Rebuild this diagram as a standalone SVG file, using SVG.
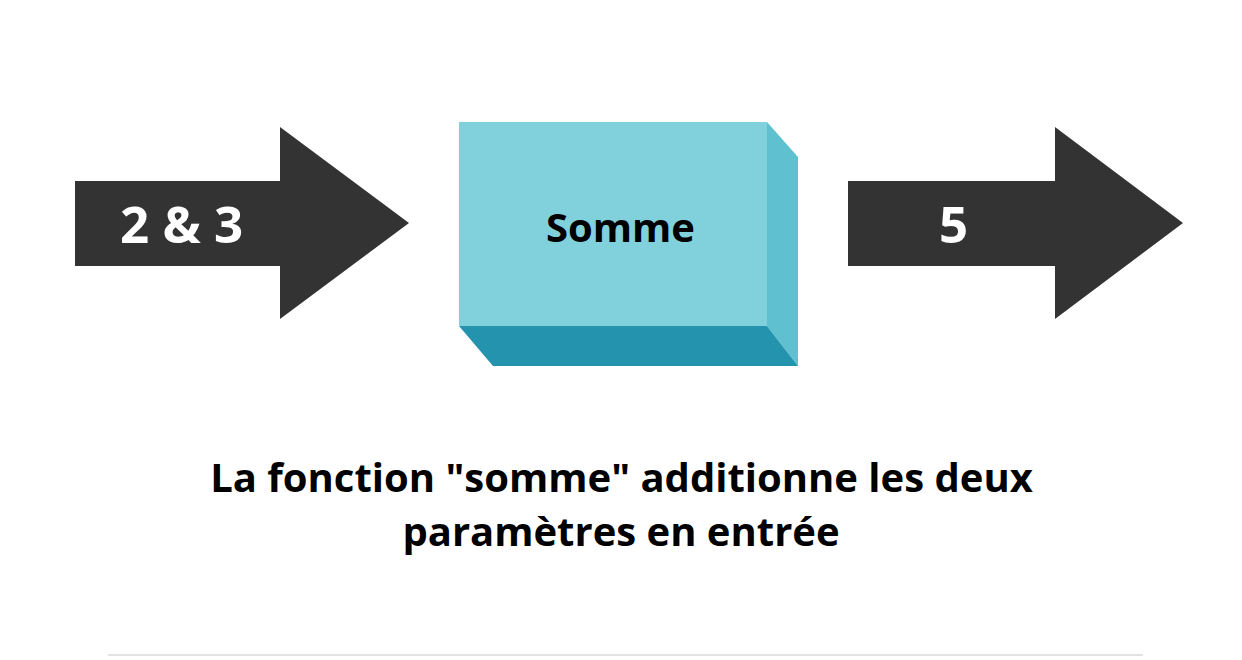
<svg xmlns="http://www.w3.org/2000/svg" width="1242" height="660" viewBox="0 0 1242 660">
<style>
.arrow{fill:#333333}
.lbl{font-family:"Open Sans","Liberation Sans",sans-serif;font-weight:bold}
.w{fill:#ffffff;font-size:51px}
.k{fill:#000000}
</style>
<rect width="1242" height="660" fill="#ffffff"/>
<g id="connectors">
<g id="arrow-in">
<polygon class="arrow" points="75,181 280,181 280,127 409,223 280,319 280,266 75,266"/>
<text class="lbl w" x="120" y="243">2 &amp; 3</text>
</g>
<g id="arrow-out">
<polygon class="arrow" points="848,181 1055,181 1055,127 1183,223 1055,319 1055,266 848,266"/>
<text class="lbl w" x="939" y="243">5</text>
</g>
</g>
<g id="node-somme">
<polygon points="767,122 798,157 798,366 767,326" fill="#5FC1CF"/>
<polygon points="459,326 767,326 798,366 493,366" fill="#2393AE"/>
<rect x="459" y="122" width="308" height="204" fill="#81D1DD"/>
<text class="lbl k" x="620.5" y="242" font-size="40" text-anchor="middle">Somme</text>
</g>
<g id="caption">
<text class="lbl k" x="621.5" y="492" font-size="40" text-anchor="middle">La fonction "somme" additionne les deux</text>
<text class="lbl k" x="621" y="546" font-size="40" text-anchor="middle">paramètres en entrée</text>
</g>
<line x1="108" y1="655" x2="1143" y2="655" stroke="#e2e2e2" stroke-width="2"/>
</svg>
